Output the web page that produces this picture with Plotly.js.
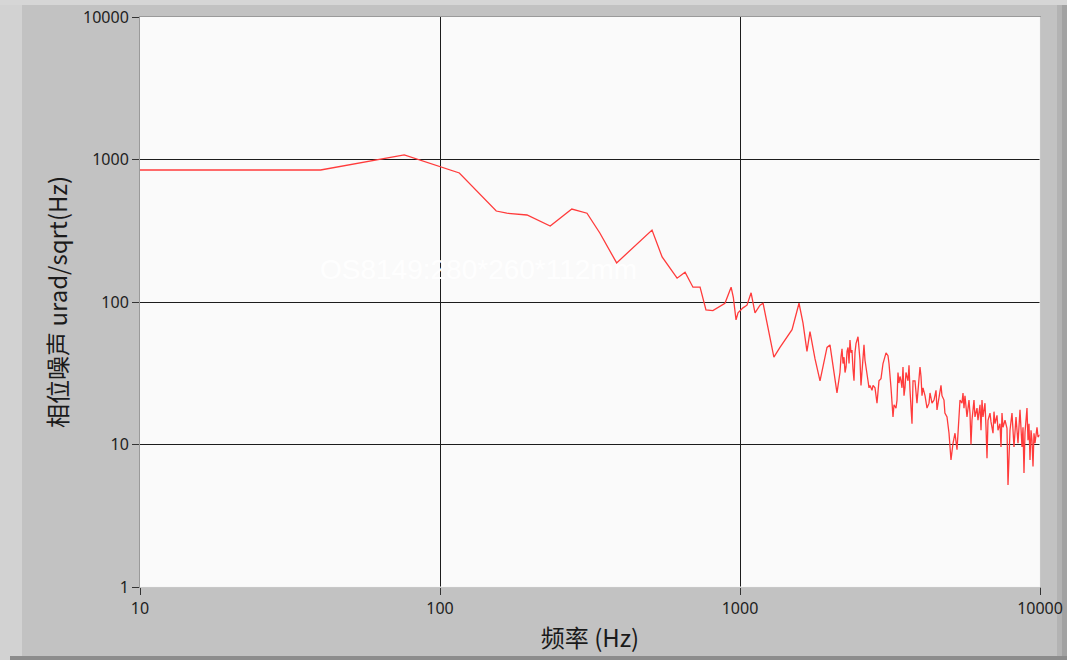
<!DOCTYPE html>
<html>
<head>
<meta charset="utf-8">
<script src="https://cdn.plot.ly/plotly-3.0.1.min.js"></script>
<style>
  html, body { margin: 0; padding: 0; background: #c2c2c2; }
  #chart { width: 1067px; height: 660px; }
</style>
</head>
<body>
<div id="chart"></div>
<script>
// Phase-noise spectrum (frequency in Hz, noise in urad/sqrt(Hz))
const freqHz = [
  10, 40, 76, 100, 116, 154, 167, 195, 233, 275, 309, 341, 388, 509, 550, 617, 656, 697, 736,
  770, 812, 891, 934, 950, 970, 985, 1023, 1055, 1089, 1122, 1166, 1194, 1233, 1297, 1359,
  1491, 1573, 1622, 1672, 1711, 1778, 1848, 1950, 1995, 2105, 2154, 2171, 2188, 2205, 2222,
  2239, 2257, 2274, 2292, 2309, 2326, 2344, 2362, 2380, 2399, 2417, 2436, 2474, 2493, 2512,
  2531, 2551, 2570, 2590, 2610, 2630, 2671, 2692, 2712, 2754, 2776, 2818, 2862, 2906, 2951,
  2997, 3043, 3067, 3114, 3138, 3187, 3211, 3236, 3261, 3311, 3337, 3362, 3388, 3415, 3441,
  3467, 3494, 3521, 3548, 3575, 3631, 3659, 3687, 3715, 3744, 3773, 3831, 3890, 3920, 3981,
  4012, 4043, 4074, 4137, 4201, 4266, 4299, 4365, 4433, 4502, 4536, 4571, 4642, 4677, 4713,
  4786, 4820, 4898, 4974, 5012, 5050, 5129, 5208, 5289, 5330, 5370, 5412, 5495, 5538, 5580,
  5623, 5710, 5754, 5798, 5843, 5888, 5933, 5979, 6025, 6071, 6166, 6213, 6310, 6358, 6407,
  6457, 6556, 6607, 6658, 6709, 6813, 6866, 6972, 7025, 7080, 7189, 7244, 7356, 7413, 7470,
  7528, 7644, 7762, 7822, 7882, 7943, 8066, 8128, 8190, 8318, 8382, 8446, 8577, 8643, 8710,
  8777, 8844, 8913, 9050, 9120, 9190, 9261, 9333, 9404, 9477, 9550, 9624, 9772, 9848, 10000
];
const noiseUrad = [
  844, 844, 1076, 886, 804, 435, 420, 408, 341, 449, 420, 305, 188, 320, 207, 147, 162, 127, 127,
  88, 87, 98, 127, 108, 75, 84, 91, 95, 116, 84, 95, 98, 71, 41, 48,
  64, 98, 71, 45, 62, 40, 28, 48, 50, 23, 32, 41, 47, 37, 41,
  32, 35, 45, 48, 37, 54, 44, 46, 34, 28, 44, 51, 57, 48, 39,
  26, 33, 44, 50, 39, 34, 28, 25, 26, 24, 26, 25, 19.5, 28, 29,
  37, 41, 44, 42, 37, 25, 18, 15.6, 19, 18, 20.5, 32, 27, 30, 28,
  25, 35, 22, 25, 32, 28, 36, 24, 16.6, 14, 28, 28, 19.5, 25, 35,
  30, 22, 25, 22, 18, 19.5, 23, 19.5, 20.5, 24, 17.5, 19.5, 23, 26, 22,
  20.5, 16.6, 15.6, 12, 9.6, 7.8, 10.2, 12, 9.2, 12.6, 16.6, 20.5, 19.5, 23, 18,
  22, 15.6, 17.5, 20.5, 16.6, 10, 14.8, 17.5, 20.5, 15.6, 18, 14.8, 19, 12.6, 20.5,
  15.6, 19.5, 13.2, 8, 14.8, 16.6, 14.4, 12, 17, 14, 16, 12.6, 14, 9.6, 16.6,
  13.2, 14.8, 13, 5.2, 9.6, 12.6, 16.6, 13.2, 9.6, 15.6, 12.6, 10.2, 17.5, 12.6, 9.6,
  13.2, 6.3, 12.2, 18, 10.7, 14, 7.8, 12.6, 10.7, 7, 12, 10.2, 13.2, 11.3, 11.7
];

// Decade ticks
const xTickVals = [10, 100, 1000, 10000];
const xTickText = ['10', '100', '1000', '10000'];
const yTickVals = [1, 10, 100, 1000, 10000];
const yTickText = ['1', '10', '100', '1000', '10000'];

const xTitle = '频率 (Hz)';
const yTitle = '相位噪声 urad/sqrt(Hz)';
const stampText = 'OS8149:280*260*112mm';

// Page geometry helpers: convert page pixels to paper fractions for the frame decoration
const W = 1067, H = 660;
const M = { l: 140, r: 27, t: 17, b: 73 };
const PW = W - M.l - M.r, PH = H - M.t - M.b;
const px = v => (v - M.l) / PW;
const py = v => (H - M.b - v) / PH;

function frameRect(x0, y0, x1, y1, color) {
  return {
    type: 'rect', xref: 'paper', yref: 'paper', layer: 'below',
    x0: px(x0), x1: px(x1), y0: py(y1), y1: py(y0),
    fillcolor: color, line: { width: 0 }
  };
}
function edgeLine(x0, y0, x1, y1, color) {
  return {
    type: 'line', xref: 'paper', yref: 'paper', layer: 'above',
    x0: x0, y0: y0, x1: x1, y1: y1, line: { color: color, width: 1 }
  };
}

const tickFont = { family: 'Noto Sans, Liberation Sans, sans-serif', size: 16, color: '#1e1e1e' };
const titleFont = { family: 'Noto Sans CJK SC, Noto Sans, sans-serif', size: 24, color: '#1a1a1a' };

const trace = {
  x: freqHz,
  y: noiseUrad,
  type: 'scatter',
  mode: 'lines',
  line: { color: '#ff3b3b', width: 1.3 },
  hoverinfo: 'x+y'
};

const layout = {
  width: W, height: H,
  margin: M,
  paper_bgcolor: '#c2c2c2',
  plot_bgcolor: '#fafafa',
  showlegend: false,
  xaxis: {
    type: 'log',
    range: [1, 4],
    tickvals: xTickVals, ticktext: xTickText,
    ticks: 'outside', ticklen: 7, tickwidth: 1, tickcolor: '#333',
    tickfont: tickFont,
    showgrid: true, gridcolor: '#1c1c1c', gridwidth: 1,
    zeroline: false,
    showline: true, linecolor: '#9a9a9a', linewidth: 1, mirror: true,
    title: { text: xTitle, font: titleFont, standoff: 11 },
    automargin: false
  },
  yaxis: {
    type: 'log',
    range: [0, 4],
    tickvals: yTickVals, ticktext: yTickText,
    ticks: 'outside', ticklen: 7, tickwidth: 1, tickcolor: '#333',
    tickfont: tickFont,
    showgrid: true, gridcolor: '#1c1c1c', gridwidth: 1,
    zeroline: false,
    showline: true, linecolor: '#9a9a9a', linewidth: 1, mirror: true,
    title: { text: yTitle, font: titleFont, standoff: 8 },
    automargin: false
  },
  shapes: [
    // outer bevel of the panel
    frameRect(0, 0, 22, H, '#d2d2d2'),
    frameRect(0, 0, W, 5, '#d6d6d6'),
    frameRect(1057, 5, 1062, H, '#b3b3b3'),
    frameRect(1062, 5, W, H, '#a2a2a2'),
    frameRect(10, 656, W, H, '#8c8c8c'),
    // light lower/right edges of the sunken plot area
    edgeLine(0, 0, 1, 0, '#f4f4f4'),
    edgeLine(1, 0, 1, 1, '#f4f4f4')
  ],
  annotations: [{
    text: stampText,
    xref: 'paper', yref: 'paper',
    x: px(478), y: py(269),
    xanchor: 'center', yanchor: 'middle',
    showarrow: false,
    font: { family: 'Liberation Sans, Arial, sans-serif', size: 28, color: 'rgba(255,255,255,0.95)' }
  }]
};

Plotly.newPlot('chart', [trace], layout, { displayModeBar: false, staticPlot: true });
</script>
</body>
</html>
